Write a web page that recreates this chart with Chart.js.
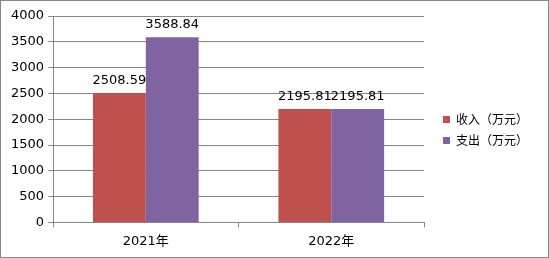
<!DOCTYPE html>
<html>
<head>
<meta charset="utf-8">
<script src="https://cdn.jsdelivr.net/npm/chart.js@4"></script>
<style>
  html, body { margin: 0; padding: 0; background: #fff; }
  #wrap { width: 549px; height: 258px; }
</style>
</head>
<body>
<div id="wrap"><canvas id="myChart" width="549" height="258"></canvas></div>
<script>
const years = ['2021年', '2022年'];
const income = [2508.59, 2195.81];
const spend = [3588.84, 2195.81];
const seriesNames = ['收入（万元）', '支出（万元）'];

const FONT = '"DejaVu Sans", "Noto Sans CJK SC", sans-serif';
const CJK = '"Noto Sans CJK SC", "DejaVu Sans", sans-serif';
const GRID = '#868686';

// value labels above each bar
const barLabels = {
    id: 'barLabels',
    afterDatasetsDraw(chart) {
        const ctx = chart.ctx;
        ctx.save();
        ctx.font = '13px ' + FONT;
        ctx.fillStyle = '#000';
        ctx.textAlign = 'center';
        ctx.textBaseline = 'alphabetic';
        chart.data.datasets.forEach(function(ds, i){
            chart.getDatasetMeta(i).data.forEach(function(bar, j){
                ctx.fillText(ds.data[j].toFixed(2), bar.x, bar.y - 9);
            });
        });
        ctx.restore();
    }
};

// legend on the right, plus the frame round the picture
const sideLegend = {
    id: 'sideLegend',
    afterDraw(chart) {
        const ctx = chart.ctx;
        const a = chart.chartArea;
        ctx.save();
        ctx.font = '12px ' + CJK;
        ctx.textBaseline = 'middle';
        ctx.textAlign = 'left';
        var x = a.right + 19;
        var y0 = 119.5;
        chart.data.datasets.forEach(function(ds, i){
            var y = y0 + i * 21;
            ctx.fillStyle = ds.backgroundColor;
            ctx.fillRect(x, y - 3.5, 7, 7);
            ctx.fillStyle = '#000';
            // full-width cells, one char at a time
            Array.from(ds.label).forEach(function(ch, k){
                ctx.fillText(ch, x + 13 + k * 12, y);
            });
        });
        ctx.strokeStyle = GRID;
        ctx.lineWidth = 1;
        ctx.strokeRect(0.5, 0.5, chart.width - 1, chart.height - 1);
        ctx.restore();
    }
};

Chart.defaults.font.family = FONT;
Chart.defaults.color = '#000';

new Chart(document.getElementById('myChart'), {
    type: 'bar',
    data: {
        labels: years,
        datasets: [{
            label: seriesNames[0],
            data: income,
            backgroundColor: '#C0504D',
            categoryPercentage: 0.57,
            barPercentage: 1.0
        }, {
            label: seriesNames[1],
            data: spend,
            backgroundColor: '#8064A2',
            categoryPercentage: 0.57,
            barPercentage: 1.0
        }]
    },
    options: {
        responsive: false,
        animation: false,
        layout: { padding: { left: 7, top: 16, right: 125, bottom: 3 } },
        plugins: {
            tooltip: { enabled: false },
            legend: { display: false }
        },
        scales: {
            y: {
                min: 0,
                max: 4000,
                ticks: {
                    stepSize: 500, padding: 4, font: { size: 13 }, color: '#000',
                    callback: function(v){ return String(v); }
                },
                grid: { color: GRID, tickLength: 5 },
                border: { color: GRID }
            },
            x: {
                ticks: { padding: 6, font: { size: 13 }, color: '#000' },
                grid: { drawOnChartArea: false, color: GRID, tickLength: 5, offset: true },
                border: { color: GRID }
            }
        }
    },
    plugins: [barLabels, sideLegend]
});
</script>
</body>
</html>
